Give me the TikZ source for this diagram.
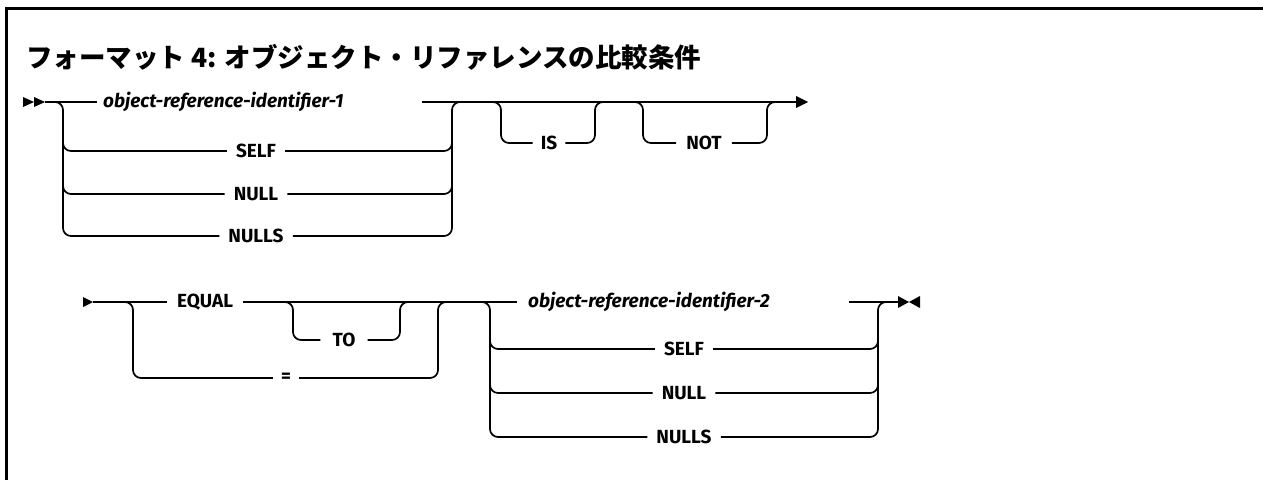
\documentclass[tikz,border=0pt]{standalone}
\usepackage{fontspec}
\setmainfont{Fira Sans}
\newfontfamily\jpfont{Noto Sans CJK JP}
\tikzset{
  rail/.style={line width=1.7pt, rounded corners=8pt},
  kw/.style={font=\fontsize{19}{21}\selectfont\bfseries, inner xsep=9pt, inner ysep=0pt},
  var/.style={font=\fontsize{19}{21}\selectfont\bfseries\itshape, inner ysep=0pt, align=left},
  tip/.style={fill=black}
}
\begin{document}
\begin{tikzpicture}[x=1pt,y=-1pt]
\useasboundingbox (0,0) rectangle (1263,480);
\draw[line width=3pt] (6,480) -- (6,8.5) -- (1263,8.5);
\node[anchor=west, font=\jpfont\bfseries\fontsize{26.5}{28}\selectfont, inner sep=0pt] (title) at (26,57) {フォーマット 4: オブジェクト・リファレンスの比較条件};

% ---------- row 1 ----------
\coordinate (s1) at (45,102);
\fill[tip] (23,97) -- (34,102) -- (23,107) -- cycle;
\fill[tip] (34,97) -- (45,102) -- (34,107) -- cycle;
\node[var, anchor=west, text width=313pt, inner xsep=6pt] (o1) at (97,102) {object-reference-identifier-1};
\node[kw] (self1) at (256,151) {SELF};
\node[kw] (null1) at (256,194) {NULL};
\node[kw] (nulls1) at (256,236) {NULLS};
\node[kw, inner xsep=8pt] (is) at (549,143) {IS};
\node[kw, inner xsep=10pt] (not) at (704,143) {NOT};
\coordinate (e1) at (796,102);
\fill[tip] (796,96) -- (808,102) -- (796,108) -- cycle;

\draw[rail] (s1) -- (o1.west);
\draw[rail] (o1.east) -- (e1);
\draw[rail] (50,102) -- (63,102) -- (63,236) -- (nulls1.west);
\draw[rail] (63,140) -- (63,151) -- (self1.west);
\draw[rail] (63,180) -- (63,194) -- (null1.west);
\draw[rail] (nulls1.east) -- (452,236) -- (452,102) -- (465,102);
\draw[rail] (self1.east) -- (452,151) -- (452,140);
\draw[rail] (null1.east) -- (452,194) -- (452,180);
\draw[rail] (488,102) -- (501,102) -- (501,143) -- (is.west);
\draw[rail] (is.east) -- (595,143) -- (595,102) -- (608,102);
\draw[rail] (630,102) -- (643,102) -- (643,143) -- (not.west);
\draw[rail] (not.east) -- (767,143) -- (767,102) -- (780,102);

% ---------- row 2 ----------
\coordinate (s2) at (93,302);
\fill[tip] (83,297) -- (93,302) -- (83,307) -- cycle;
\node[kw, inner xsep=10pt] (equal) at (205,302) {EQUAL};
\node[kw, inner xsep=12pt] (to) at (344,340) {TO};
\node[kw, inner xsep=8pt] (eq) at (286,378) {=};
\node[var, anchor=west, text width=310pt, inner xsep=11pt] (o2) at (517,302) {object-reference-identifier-2};
\node[kw] (self2) at (684,349) {SELF};
\node[kw] (null2) at (684,393) {NULL};
\node[kw] (nulls2) at (684,437) {NULLS};
\coordinate (e2) at (898,302);
\fill[tip] (898,296) -- (909,302) -- (898,308) -- cycle;
\fill[tip] (920,296) -- (909,302) -- (920,308) -- cycle;

\draw[rail] (s2) -- (equal.west);
\draw[rail] (equal.east) -- (o2.west);
\draw[rail] (o2.east) -- (e2);
\draw[rail] (120,302) -- (133,302) -- (133,378) -- (eq.west);
\draw[rail] (eq.east) -- (438,378) -- (438,302) -- (451,302);
\draw[rail] (280,302) -- (293,302) -- (293,340) -- (to.west);
\draw[rail] (to.east) -- (400,340) -- (400,302) -- (413,302);
\draw[rail] (477,302) -- (490,302) -- (490,437) -- (nulls2.west);
\draw[rail] (490,338) -- (490,349) -- (self2.west);
\draw[rail] (490,380) -- (490,393) -- (null2.west);
\draw[rail] (nulls2.east) -- (878,437) -- (878,302) -- (891,302);
\draw[rail] (self2.east) -- (878,349) -- (878,338);
\draw[rail] (null2.east) -- (878,393) -- (878,380);
\end{tikzpicture}
\end{document}
